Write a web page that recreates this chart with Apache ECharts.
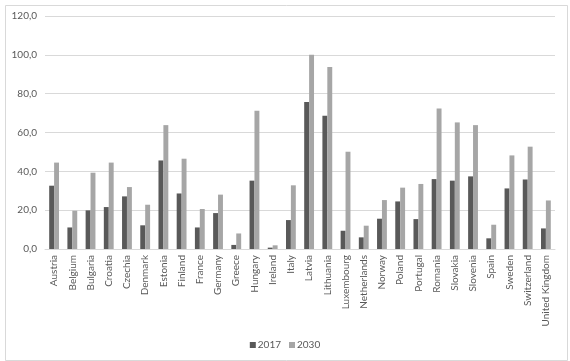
<!DOCTYPE html>
<html>
<head>
<meta charset="utf-8">
<script src="https://cdn.jsdelivr.net/npm/echarts@6/dist/echarts.min.js"></script>
<style>
html,body{margin:0;padding:0;background:#fff;}
#chart{width:570px;height:361px;}
</style>
</head>
<body>
<div id="chart"></div>
<script>
const countries = ['Austria','Belgium','Bulgaria','Croatia','Czechia','Denmark','Estonia','Finland','France','Germany','Greece','Hungary','Ireland','Italy','Latvia','Lithuania','Luxembourg','Netherlands','Norway','Poland','Portugal','Romania','Slovakia','Slovenia','Spain','Sweden','Switzerland','United Kingdom'];
const values2017 = [32.6,11.1,19.9,21.6,27.1,12.2,45.6,28.6,11.1,18.5,2.1,35.2,0.7,14.9,75.7,68.6,9.4,6.0,15.6,24.5,15.4,36.0,35.2,37.4,5.5,31.2,35.8,10.6];
const values2030 = [44.5,19.7,39.3,44.5,31.9,22.8,63.8,46.5,20.6,28.0,8.0,71.2,1.9,32.8,100.0,93.7,50.1,12.0,25.2,31.6,33.5,72.4,65.2,63.8,12.5,48.2,52.7,25.0];
const seriesNames = ['2017','2030'];

const font = 'Lato, "Open Sans", sans-serif';
const chart = echarts.init(document.getElementById('chart'), null, {renderer:'canvas'});
chart.setOption({
  animation:false,
  backgroundColor:'#ffffff',
  graphic:[{
    type:'rect', left:3, top:3,
    shape:{width:562, height:355},
    style:{fill:'none', stroke:'#d9d9d9', lineWidth:1},
    silent:true
  }],
  grid:{left:45, right:15, top:16, bottom:112},
  legend:{
    data:seriesNames,
    bottom:6, left:'center',
    itemWidth:6, itemHeight:6, itemGap:8,
    icon:'rect',
    textStyle:{color:'#595959', fontSize:10, fontFamily:font, padding:[0,0,0,-3]}
  },
  xAxis:{
    type:'category',
    data:countries,
    axisLine:{lineStyle:{color:'#d9d9d9'}},
    axisTick:{show:false},
    axisLabel:{rotate:90, interval:0, color:'#595959', fontSize:10, fontFamily:font, margin:6}
  },
  yAxis:{
    type:'value',
    min:0, max:120, interval:20,
    axisLine:{show:false},
    axisTick:{show:false},
    splitLine:{lineStyle:{color:'#d9d9d9'}},
    axisLabel:{color:'#595959', fontSize:10, fontFamily:font, margin:8,
      formatter:v=>v.toFixed(1).replace('.',',')}
  },
  series:[
    {name:seriesNames[0], type:'bar', data:values2017, itemStyle:{color:'#595959'}, barGap:'0%', barCategoryGap:'46%'},
    {name:seriesNames[1], type:'bar', data:values2030, itemStyle:{color:'#a6a6a6'}, barGap:'0%', barCategoryGap:'46%'}
  ]
});
</script>
</body>
</html>
